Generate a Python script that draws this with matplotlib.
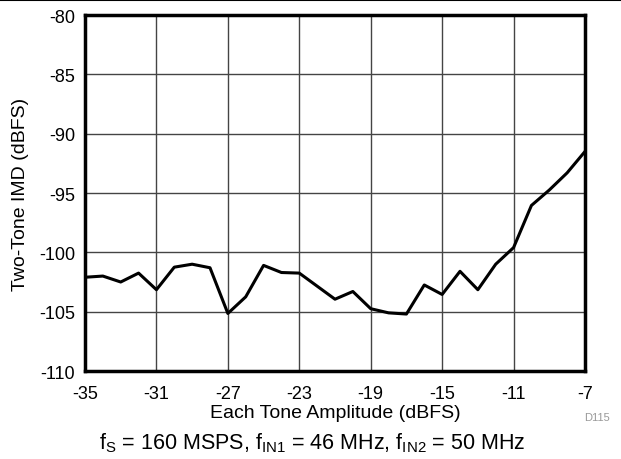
import numpy as np
import matplotlib
matplotlib.use('Agg')
import matplotlib.pyplot as plt

plt.rcParams['font.family'] = ['Liberation Sans', 'DejaVu Sans']
plt.rcParams['mathtext.fontset'] = 'custom'
plt.rcParams['mathtext.rm'] = 'Liberation Sans'
plt.rcParams['mathtext.it'] = 'Liberation Sans'
plt.rcParams['axes.unicode_minus'] = False

amplitude = np.arange(-35, -6, 1)
imd = [-102.1, -102.0, -102.5, -101.75, -103.15, -101.25, -101.0, -101.3,
       -105.15, -103.75, -101.1, -101.7, -101.75, -102.85, -103.95, -103.3,
       -104.75, -105.1, -105.2, -102.75, -103.55, -101.6, -103.15, -101.0,
       -99.6, -96.05, -94.75, -93.3, -91.5]
x_ticks = np.arange(-35, -6, 4)
y_ticks = np.arange(-110, -79, 5)

fig = plt.figure(figsize=(6.21, 4.60), dpi=100)
ax = fig.add_axes([85 / 621, 1 - 372 / 460, 500 / 621, 356 / 460])

ax.plot(amplitude, imd, color='black', linewidth=2.2, zorder=3)

ax.set_xlim(-35, -7)
ax.set_ylim(-110, -80)
ax.set_xticks(x_ticks)
ax.set_yticks(y_ticks)
ax.tick_params(length=0, labelsize=13)
ax.tick_params(axis='x', pad=10)
ax.tick_params(axis='y', pad=7)
ax.grid(True, color='#444444', linewidth=1.0)
for s in ax.spines.values():
    s.set_linewidth(2.5)

ax.set_xlabel('Each Tone Amplitude (dBFS)', fontsize=14, labelpad=1.5)
ax.set_ylabel('Two-Tone IMD (dBFS)', fontsize=14, labelpad=7)

fig.text(597 / 621, 1 - 418 / 460, 'D115', fontsize=8, color='#999999',
         ha='center', va='center')
fig.text(312 / 621, 1 - 443 / 460,
         r'f$_\mathregular{S}$ = 160 MSPS, f$_\mathregular{IN1}$ = 46 MHz, '
         r'f$_\mathregular{IN2}$ = 50 MHz',
         fontsize=15.5, ha='center', va='center')
fig.add_artist(plt.Line2D([0, 1], [1 - 1 / 460, 1 - 1 / 460],
                          color='black', linewidth=1.5))

fig.savefig('out.png', dpi=100)
